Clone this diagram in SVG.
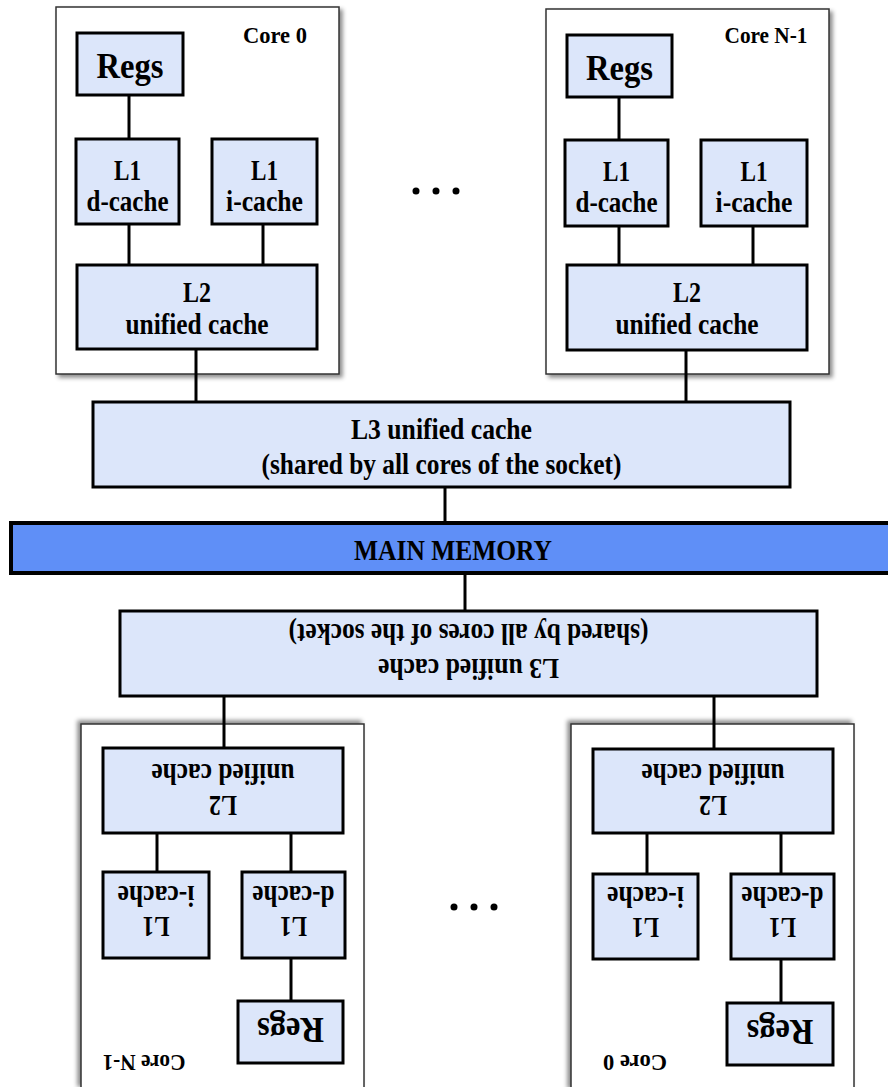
<svg xmlns="http://www.w3.org/2000/svg" width="888" height="1087" viewBox="0 0 888 1087">
  <defs>
    <filter id="shadow" x="-10%" y="-10%" width="120%" height="120%">
      <feDropShadow dx="3" dy="3" stdDeviation="2" flood-color="#000" flood-opacity="0.45"/>
    </filter>
    <style>
      .core { fill: #ffffff; stroke: #333333; stroke-width: 1.5; filter: url(#shadow); }
      .box { fill: #dce6fa; stroke: #000000; stroke-width: 3; }
      .mem { fill: #5f8ff7; stroke: #000000; stroke-width: 4; }
      .conn line { stroke: #000000; stroke-width: 3; }
      text { font-family: "Liberation Serif", "Times New Roman", serif; font-weight: bold; fill: #000000; text-anchor: middle; }
      .big { font-size: 36px; }
      .mid { font-size: 30px; }
      .tag { font-size: 23px; }
      .dot { fill: #000000; }
    </style>
  </defs>
  <rect width="888" height="1087" fill="#ffffff"/>

  <!-- Socket A (upper) -->
  <g id="socket-a">
    <g id="a-core0">
      <rect class="core" x="56" y="7" width="283" height="367"/>
      <text class="tag" x="275" y="43" textLength="64" lengthAdjust="spacingAndGlyphs">Core 0</text>
    </g>
    <g id="a-coreN1">
      <rect class="core" x="546" y="9" width="283" height="365"/>
      <text class="tag" x="766" y="43" textLength="83" lengthAdjust="spacingAndGlyphs">Core N-1</text>
    </g>
    <g id="a-connectors" class="conn">
      <line x1="129" y1="95" x2="129" y2="139"/>
      <line x1="129" y1="224" x2="129" y2="265"/>
      <line x1="263" y1="224" x2="263" y2="265"/>
      <line x1="196" y1="349" x2="196" y2="402"/>
      <line x1="619" y1="97" x2="619" y2="140"/>
      <line x1="619" y1="226" x2="619" y2="265"/>
      <line x1="753" y1="226" x2="753" y2="265"/>
      <line x1="686" y1="350" x2="686" y2="402"/>
      <line x1="445" y1="487" x2="445" y2="523"/>
    </g>
    <g id="a-core0-regs">
      <rect class="box" x="77" y="33" width="106" height="62"/>
      <text class="big" x="130" y="78" textLength="67" lengthAdjust="spacingAndGlyphs">Regs</text>
    </g>
    <g id="a-core0-l1d">
      <rect class="box" x="76" y="139" width="103" height="85"/>
      <text class="mid" x="127.5" y="180" textLength="27" lengthAdjust="spacingAndGlyphs">L1</text>
      <text class="mid" x="127.5" y="211" textLength="82" lengthAdjust="spacingAndGlyphs">d-cache</text>
    </g>
    <g id="a-core0-l1i">
      <rect class="box" x="212" y="139" width="105" height="85"/>
      <text class="mid" x="264.5" y="180" textLength="27" lengthAdjust="spacingAndGlyphs">L1</text>
      <text class="mid" x="264.5" y="211" textLength="77" lengthAdjust="spacingAndGlyphs">i-cache</text>
    </g>
    <g id="a-core0-l2">
      <rect class="box" x="77" y="265" width="240" height="84"/>
      <text class="mid" x="197" y="302" textLength="28" lengthAdjust="spacingAndGlyphs">L2</text>
      <text class="mid" x="197" y="334" textLength="143" lengthAdjust="spacingAndGlyphs">unified cache</text>
    </g>
    <g id="a-coreN1-regs">
      <rect class="box" x="567" y="35" width="105" height="62"/>
      <text class="big" x="619.5" y="80" textLength="67" lengthAdjust="spacingAndGlyphs">Regs</text>
    </g>
    <g id="a-coreN1-l1d">
      <rect class="box" x="565" y="140" width="103" height="86"/>
      <text class="mid" x="616.5" y="181" textLength="27" lengthAdjust="spacingAndGlyphs">L1</text>
      <text class="mid" x="616.5" y="212" textLength="82" lengthAdjust="spacingAndGlyphs">d-cache</text>
    </g>
    <g id="a-coreN1-l1i">
      <rect class="box" x="701" y="140" width="106" height="86"/>
      <text class="mid" x="754" y="181" textLength="27" lengthAdjust="spacingAndGlyphs">L1</text>
      <text class="mid" x="754" y="212" textLength="77" lengthAdjust="spacingAndGlyphs">i-cache</text>
    </g>
    <g id="a-coreN1-l2">
      <rect class="box" x="567" y="265" width="240" height="85"/>
      <text class="mid" x="687" y="302" textLength="28" lengthAdjust="spacingAndGlyphs">L2</text>
      <text class="mid" x="687" y="334" textLength="143" lengthAdjust="spacingAndGlyphs">unified cache</text>
    </g>
    <g id="a-l3">
      <rect class="box" x="93" y="402" width="697" height="85"/>
      <text class="mid" x="441.5" y="439" textLength="181" lengthAdjust="spacingAndGlyphs">L3 unified cache</text>
      <text class="mid" x="441.5" y="474" textLength="360" lengthAdjust="spacingAndGlyphs">(shared by all cores of the socket)</text>
    </g>
    <g id="a-ellipsis">
      <circle class="dot" cx="416" cy="191" r="3.5"/>
      <circle class="dot" cx="436" cy="191" r="3.5"/>
      <circle class="dot" cx="456" cy="191" r="3.5"/>
    </g>
  </g>

  <!-- Main memory bus shared by both sockets -->
  <g id="main-memory">
    <rect class="mem" x="11" y="523" width="890" height="50"/>
    <text class="mid" x="453" y="560" textLength="198" lengthAdjust="spacingAndGlyphs">MAIN MEMORY</text>
  </g>

  <!-- Socket B (lower): same socket, turned half a revolution about the memory bus -->
  <g id="socket-b" transform="rotate(180 455 549)">
    <g id="b-core0">
      <rect class="core" x="56" y="7" width="283" height="367"/>
      <text class="tag" x="275" y="43" textLength="64" lengthAdjust="spacingAndGlyphs">Core 0</text>
    </g>
    <g id="b-coreN1">
      <rect class="core" x="546" y="9" width="283" height="365"/>
      <text class="tag" x="766" y="43" textLength="83" lengthAdjust="spacingAndGlyphs">Core N-1</text>
    </g>
    <g id="b-connectors" class="conn">
      <line x1="129" y1="95" x2="129" y2="139"/>
      <line x1="129" y1="224" x2="129" y2="265"/>
      <line x1="263" y1="224" x2="263" y2="265"/>
      <line x1="196" y1="349" x2="196" y2="402"/>
      <line x1="619" y1="97" x2="619" y2="140"/>
      <line x1="619" y1="226" x2="619" y2="265"/>
      <line x1="753" y1="226" x2="753" y2="265"/>
      <line x1="686" y1="350" x2="686" y2="402"/>
      <line x1="445" y1="487" x2="445" y2="523"/>
    </g>
    <g id="b-core0-regs">
      <rect class="box" x="77" y="33" width="106" height="62"/>
      <text class="big" x="130" y="78" textLength="67" lengthAdjust="spacingAndGlyphs">Regs</text>
    </g>
    <g id="b-core0-l1d">
      <rect class="box" x="76" y="139" width="103" height="85"/>
      <text class="mid" x="127.5" y="180" textLength="27" lengthAdjust="spacingAndGlyphs">L1</text>
      <text class="mid" x="127.5" y="211" textLength="82" lengthAdjust="spacingAndGlyphs">d-cache</text>
    </g>
    <g id="b-core0-l1i">
      <rect class="box" x="212" y="139" width="105" height="85"/>
      <text class="mid" x="264.5" y="180" textLength="27" lengthAdjust="spacingAndGlyphs">L1</text>
      <text class="mid" x="264.5" y="211" textLength="77" lengthAdjust="spacingAndGlyphs">i-cache</text>
    </g>
    <g id="b-core0-l2">
      <rect class="box" x="77" y="265" width="240" height="84"/>
      <text class="mid" x="197" y="302" textLength="28" lengthAdjust="spacingAndGlyphs">L2</text>
      <text class="mid" x="197" y="334" textLength="143" lengthAdjust="spacingAndGlyphs">unified cache</text>
    </g>
    <g id="b-coreN1-regs">
      <rect class="box" x="567" y="35" width="105" height="62"/>
      <text class="big" x="619.5" y="80" textLength="67" lengthAdjust="spacingAndGlyphs">Regs</text>
    </g>
    <g id="b-coreN1-l1d">
      <rect class="box" x="565" y="140" width="103" height="86"/>
      <text class="mid" x="616.5" y="181" textLength="27" lengthAdjust="spacingAndGlyphs">L1</text>
      <text class="mid" x="616.5" y="212" textLength="82" lengthAdjust="spacingAndGlyphs">d-cache</text>
    </g>
    <g id="b-coreN1-l1i">
      <rect class="box" x="701" y="140" width="106" height="86"/>
      <text class="mid" x="754" y="181" textLength="27" lengthAdjust="spacingAndGlyphs">L1</text>
      <text class="mid" x="754" y="212" textLength="77" lengthAdjust="spacingAndGlyphs">i-cache</text>
    </g>
    <g id="b-coreN1-l2">
      <rect class="box" x="567" y="265" width="240" height="85"/>
      <text class="mid" x="687" y="302" textLength="28" lengthAdjust="spacingAndGlyphs">L2</text>
      <text class="mid" x="687" y="334" textLength="143" lengthAdjust="spacingAndGlyphs">unified cache</text>
    </g>
    <g id="b-l3">
      <rect class="box" x="93" y="402" width="697" height="85"/>
      <text class="mid" x="441.5" y="439" textLength="181" lengthAdjust="spacingAndGlyphs">L3 unified cache</text>
      <text class="mid" x="441.5" y="474" textLength="360" lengthAdjust="spacingAndGlyphs">(shared by all cores of the socket)</text>
    </g>
    <g id="b-ellipsis">
      <circle class="dot" cx="416" cy="191" r="3.5"/>
      <circle class="dot" cx="436" cy="191" r="3.5"/>
      <circle class="dot" cx="456" cy="191" r="3.5"/>
    </g>
  </g>
</svg>
